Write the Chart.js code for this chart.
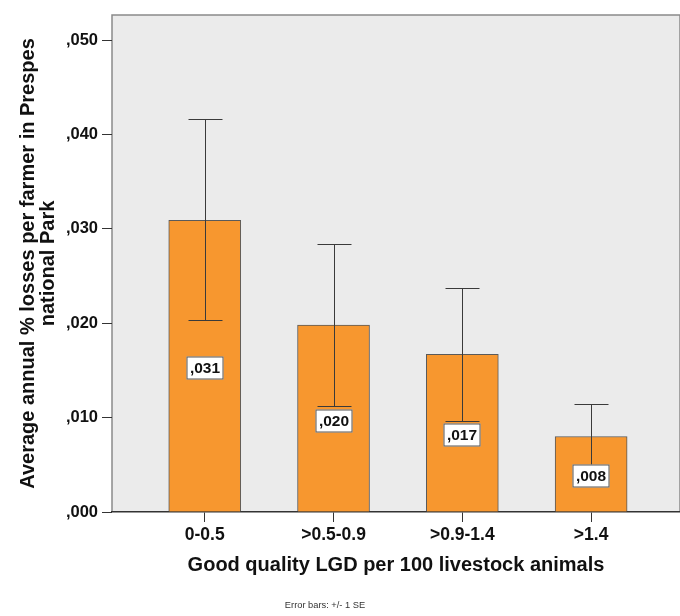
<!DOCTYPE html>
<html>
<head>
<meta charset="utf-8">
<script src="https://cdn.jsdelivr.net/npm/chart.js@4.4.1/dist/chart.umd.min.js"></script>
<style>
  html, body { margin: 0; padding: 0; background: #ffffff; }
  #wrap { width: 680px; height: 616px; position: relative; }
</style>
</head>
<body>
<div id="wrap"><canvas id="lossChart"></canvas></div>
<script>
// data
const categories = ['0-0.5', '>0.5-0.9', '>0.9-1.4', '>1.4'];
const meanLoss = [0.0309, 0.0198, 0.0167, 0.0080];
const errUpper = [0.0416, 0.0284, 0.0237, 0.0114];
const errLower = [0.0203, 0.0112, 0.0096, 0.0047];
const yTicks = [0, 0.01, 0.02, 0.03, 0.04, 0.05];

const fontFamily = '"Liberation Sans", Arial, sans-serif';

function fmt(v) {
    // SPSS style: ,031
    return v.toFixed(3).replace(/^0\./, ',');
}

const plotBackground = {
    id: 'plotBackground',
    beforeDraw(chart) {
        const { ctx, chartArea: a } = chart;
        ctx.save();
        ctx.fillStyle = '#ebebeb';
        ctx.fillRect(a.left, a.top, a.right - a.left, a.bottom - a.top);
        ctx.strokeStyle = '#8a8a8a';
        ctx.lineWidth = 1.5;
        ctx.beginPath();
        ctx.moveTo(a.left, a.bottom);
        ctx.lineTo(a.left, a.top);
        ctx.lineTo(a.right, a.top);
        ctx.lineTo(a.right, a.bottom);
        ctx.stroke();
        ctx.restore();
    }
};

const errorBarsAndLabels = {
    id: 'errorBarsAndLabels',
    afterDatasetsDraw(chart) {
        const { ctx } = chart;
        const x = chart.scales.x, y = chart.scales.y;
        const cap = 17;
        ctx.save();
        ctx.strokeStyle = '#3a3a3a';
        ctx.lineWidth = 1;
        for (let i = 0; i < categories.length; i++) {
            const cx = Math.round(x.getPixelForValue(i)) + 0.5;
            const yt = Math.round(y.getPixelForValue(errUpper[i])) + 0.5;
            const yb = Math.round(y.getPixelForValue(errLower[i])) + 0.5;
            ctx.beginPath();
            ctx.moveTo(cx, yt); ctx.lineTo(cx, yb);
            ctx.moveTo(cx - cap, yt); ctx.lineTo(cx + cap, yt);
            ctx.moveTo(cx - cap, yb); ctx.lineTo(cx + cap, yb);
            ctx.stroke();
        }
        // value labels in white boxes, at half bar height
        ctx.font = 'bold 15.5px ' + fontFamily;
        ctx.textAlign = 'center';
        ctx.textBaseline = 'middle';
        for (let i = 0; i < categories.length; i++) {
            const cx = Math.round(x.getPixelForValue(i));
            const cy = Math.round(y.getPixelForValue(meanLoss[i] / 2)) + 2;
            const w = 37, h = 23;
            ctx.fillStyle = '#ffffff';
            ctx.fillRect(cx - w / 2, cy - h / 2, w, h);
            ctx.strokeStyle = '#555555';
            ctx.strokeRect(cx - w / 2 + 0.5, cy - h / 2 + 0.5, w - 1, h - 1);
            ctx.fillStyle = '#111111';
            ctx.fillText(fmt(meanLoss[i]), cx, cy + 1);
        }
        // footnote
        ctx.font = '9.3px ' + fontFamily;
        ctx.fillStyle = '#333333';
        ctx.fillText('Error bars: +/- 1 SE', 325, 605);
        ctx.restore();
    }
};

const ctx = document.getElementById('lossChart').getContext('2d');
new Chart(ctx, {
    type: 'bar',
    data: {
        datasets: [{
            data: meanLoss.map((v, i) => ({ x: i, y: v })),
            backgroundColor: '#f7972f',
            borderColor: '#5a5a5a',
            borderWidth: 1,
            borderSkipped: 'bottom',
            barThickness: 72
        }]
    },
    options: {
        responsive: true,
        maintainAspectRatio: false,
        animation: false,
        layout: { padding: { top: 15, right: 0, bottom: 30, left: 0 } },
        plugins: {
            legend: { display: false },
            tooltip: { enabled: false }
        },
        scales: {
            x: {
                type: 'linear',
                min: -0.72,
                max: 3.69,
                offset: false,
                afterBuildTicks: function (scale) {
                    scale.ticks = categories.map((c, i) => ({ value: i }));
                },
                afterFit: function (scale) { scale.height = 74; },
                grid: { display: true, offset: false, drawOnChartArea: false, drawTicks: true, tickLength: 10, color: '#333333' },
                border: { display: true, color: '#333333', width: 1.5 },
                ticks: {
                    color: '#111111',
                    padding: 3,
                    maxRotation: 0,
                    font: { family: fontFamily, size: 17.5, weight: 'bold' },
                    callback: function (value) { return categories[value]; }
                },
                title: {
                    display: true,
                    text: 'Good quality LGD per 100 livestock animals',
                    color: '#111111',
                    font: { family: fontFamily, size: 20, weight: 'bold' },
                    padding: { top: 0, bottom: 9 }
                }
            },
            y: {
                min: 0,
                max: 0.05265,
                afterBuildTicks: function (scale) {
                    scale.ticks = yTicks.map(v => ({ value: v }));
                },
                afterFit: function (scale) { scale.width = 112; },
                grid: { display: true, drawOnChartArea: false, drawTicks: true, tickLength: 10, color: '#333333' },
                border: { display: false },
                ticks: {
                    color: '#111111',
                    padding: 4,
                    font: { family: fontFamily, size: 16.5, weight: 'bold' },
                    callback: function (value) { return fmt(value); }
                },
                title: {
                    display: true,
                    text: ['Average annual % losses per farmer in Prespes', 'national Park'],
                    color: '#111111',
                    font: { family: fontFamily, size: 20, weight: 'bold', lineHeight: 1.0 },
                    padding: { top: 18, bottom: 0 }
                }
            }
        }
    },
    plugins: [plotBackground, errorBarsAndLabels]
});
</script>
</body>
</html>
